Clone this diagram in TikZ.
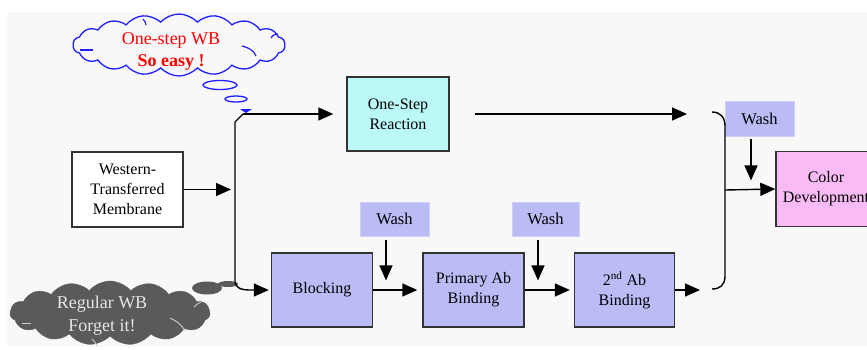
\documentclass[tikz,border=0pt]{standalone}
\usepackage{fontspec}
\setmainfont{Liberation Serif}
\usetikzlibrary{arrows.meta,shapes.symbols,shapes.geometric,calc}
\definecolor{bg}{HTML}{F8F8F8}
\definecolor{lav}{HTML}{BBBBF6}
\definecolor{cyanbox}{HTML}{BBF8F8}
\definecolor{pinkbox}{HTML}{F8BBF6}
\definecolor{edgec}{HTML}{333333}
\definecolor{cloudgray}{HTML}{5A5A5A}
\definecolor{cloudtext}{HTML}{E6E6E6}
\definecolor{cloudblue}{HTML}{1E1EFF}
\begin{document}
\begin{tikzpicture}[x=1pt,y=-1pt,
  stepbox/.style={draw=edgec, line width=1.4pt, minimum width=101pt, minimum height=74pt,
    align=center, font=\fontsize{16}{20}\selectfont, inner sep=2pt},
  washbox/.style={fill=lav, draw=lav!70!white, line width=0.8pt, minimum width=68pt,
    minimum height=34pt, font=\fontsize{16.5}{20}\selectfont, inner sep=1pt},
  arr/.style={draw=black, line width=1.4pt, -{Triangle[length=15pt,width=13pt]}},
  ln/.style={draw=black, line width=1.4pt},
  bluearc/.style={draw=cloudblue, line width=1.2pt},
  grayarc/.style={draw=cloudtext!80!cloudgray, line width=0.9pt}]
\useasboundingbox (0,0) rectangle (867,349);
\clip (0,0) rectangle (867,349);
\fill[bg] (7,12) rectangle (867,347);

% clouds
\node[cloud, cloud puffs=18, cloud puff arc=95, cloud ignores aspect, minimum width=212pt, minimum height=62pt,
  draw=cloudblue, line width=1.3pt, fill=bg] (cloudtop) at (179,45) {};
\draw[bluearc] (80,50) -- (93,50);
\draw[bluearc] (242,46) .. controls (250,48) and (254,51) .. (256,56);
\draw[bluearc] (271,38) .. controls (273,35) and (275,34) .. (278,34);
\draw[bluearc] (143,19) .. controls (145,21) and (146,23) .. (146,25);
\node[align=center, text=red, font=\fontsize{18}{22}\selectfont] (cloudtoptext) at (171,51)
  {One-step WB\\\textbf{So easy !}};
\node[ellipse, draw=cloudblue, line width=1.3pt, minimum width=34pt, minimum height=9pt, inner sep=0pt] (bub1) at (220,85) {};
\node[ellipse, draw=cloudblue, line width=1.3pt, minimum width=22pt, minimum height=6pt, inner sep=0pt] (bub2) at (236,99) {};
\fill[cloudblue] (240,109) -- (252,109) -- (246,113) -- cycle;

\node[cloud, cloud puffs=15, cloud puff arc=100, cloud ignores aspect, minimum width=200pt, minimum height=64pt,
  fill=cloudgray, draw=cloudgray] (cloudbot) at (110,313) {};
\draw[grayarc] (22,323) -- (31,323);
\draw[grayarc] (170,318) .. controls (177,321) and (182,325) .. (185,331);
\draw[grayarc] (194,307) .. controls (196,305) and (198,303) .. (201,302);
\draw[grayarc] (92,339) .. controls (94,341) and (96,343) .. (97,346);
\node[align=center, text=cloudtext, font=\fontsize{18}{23}\selectfont] (cloudbottext) at (102,316)
  {Regular WB\\Forget it!};
\node[ellipse, fill=cloudgray, minimum width=30pt, minimum height=13pt, inner sep=0pt] (blob1) at (207,288) {};
\node[ellipse, fill=cloudgray, minimum width=20pt, minimum height=6pt, inner sep=0pt] (blob2) at (228,284) {};

% boxes
\node[stepbox, minimum width=111pt, minimum height=75pt, fill=white] (west) at (127.5,189.5)
  {Western-\\Transferred\\Membrane};
\node[stepbox, fill=cyanbox, minimum width=102pt] (onestep) at (398,114) {One-Step\\Reaction};
\node[stepbox, fill=lav] (blocking) at (322,290) {Blocking};
\node[stepbox, fill=lav] (primary) at (473.5,290) {Primary Ab\\Binding};
\node[stepbox, fill=lav, minimum width=100pt] (second) at (624.5,290) {2\textsuperscript{nd} Ab\\Binding};
\node[stepbox, fill=pinkbox, minimum width=100pt, minimum height=75pt] (color) at (826,189) {Color\\Development};
\node[washbox, minimum width=69pt] (wash1) at (394.5,219) {Wash};
\node[washbox, minimum width=67pt] (wash2) at (545.5,219) {Wash};
\node[washbox, minimum width=69pt, minimum height=35pt] (wash3) at (759.5,119) {Wash};

% junction points
\coordinate (vbot) at (235,282);
\coordinate (vtop) at (235,122);
\coordinate (vcorner) at (243,114);
\coordinate (westtip) at (231,189.5);
\coordinate (ostip) at (687,114);
\coordinate (sectip) at (700,290);
\coordinate (brtop) at (712,112);
\coordinate (brbot) at (712,289);
\coordinate (brmid) at (725,190);

% connectors
\draw[arr] (west.east) -- (westtip);
\draw[ln] (vbot) -- (vtop) -- (vcorner);
\draw[arr] (vcorner) -- ([xshift=-13pt]onestep.west);
\draw[arr] (vbot) .. controls ($(vbot)+(1,6)$) and ($(vbot)+(6,8)$) .. ($(vbot)+(15,8)$) -- ([xshift=-2pt]blocking.west);
\draw[arr] (blocking.east) -- ([xshift=-5pt]primary.west);
\draw[arr] (primary.east) -- ([xshift=-4pt]second.west);
\draw[arr] (second.east) -- (sectip);
\draw[arr] ([xshift=25pt]onestep.east) -- (ostip);
\draw[arr] ([xshift=-8.5pt,yshift=-4pt]wash1.south) -- ([xshift=-8.5pt,yshift=-44pt]wash1.south);
\draw[arr] ([xshift=-7.5pt,yshift=-4pt]wash2.south) -- ([xshift=-7.5pt,yshift=-44pt]wash2.south);
\draw[arr] ([xshift=-8.5pt,yshift=-2.5pt]wash3.south) -- ([xshift=-8.5pt,yshift=-43.5pt]wash3.south);
\draw[ln] (brtop) .. controls (720,112) and (725,117) .. (725,126) -- (brmid) -- (725,276)
  .. controls (725,285) and (720,289) .. (brbot);
\draw[arr] (brmid) -- (color.west);
\end{tikzpicture}
\end{document}
